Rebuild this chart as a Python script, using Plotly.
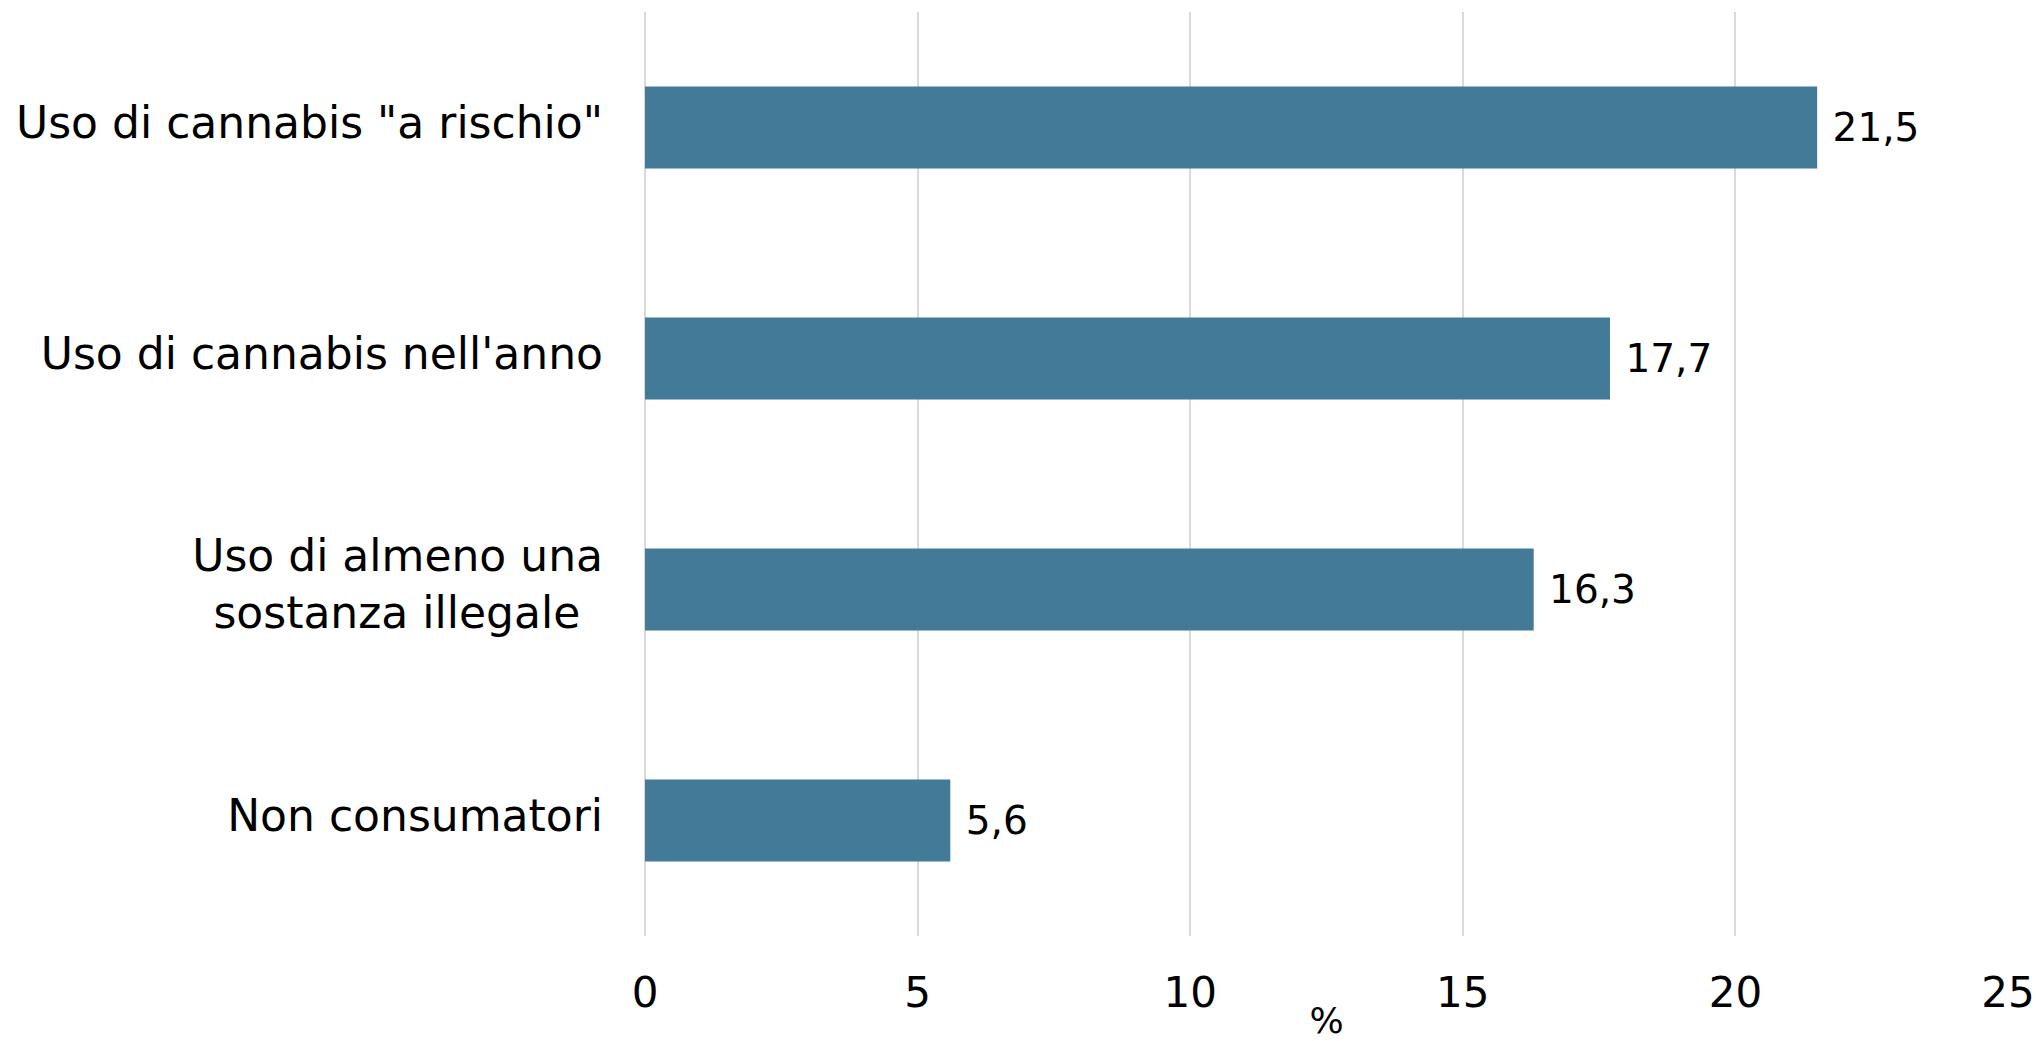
import plotly.graph_objects as go

# Categories listed top to bottom, with their percentages
categories = [
    'Uso di cannabis "a rischio"',
    "Uso di cannabis nell'anno",
    "Uso di almeno una<br>sostanza illegale\u00a0\u2009",
    "Non consumatori",
]
values = [21.5, 17.7, 16.3, 5.6]
x_ticks = [0, 5, 10, 15, 20, 25]

FONT = "DejaVu Sans"
BAR_COLOR = "#437a97"
GRID_COLOR = "#d9d9d9"

fig = go.Figure(
    go.Bar(
        x=values,
        y=categories,
        orientation="h",
        marker=dict(color=BAR_COLOR, line=dict(width=0)),
        texttemplate=" %{x:.1f}",
        textposition="outside",
        textfont=dict(family=FONT, size=39, color="#000000"),
        cliponaxis=False,
    )
)

fig.update_layout(
    width=2036,
    height=1041,
    margin=dict(l=645, r=28, t=12, b=105),
    paper_bgcolor="white",
    plot_bgcolor="white",
    separators=",.",
    bargap=0.645,
    showlegend=False,
    font=dict(family=FONT, color="#000000"),
)

fig.update_xaxes(
    range=[0, 25],
    tickvals=x_ticks,
    ticktext=[str(t) for t in x_ticks],
    tickfont=dict(family=FONT, size=42, color="#000000"),
    showgrid=True,
    gridcolor=GRID_COLOR,
    gridwidth=2,
    zeroline=True,
    zerolinecolor=GRID_COLOR,
    zerolinewidth=2,
    showline=False,
    ticks="",
    ticklabelstandoff=28,
    title=dict(text="%", font=dict(family=FONT, size=36, color="#000000"), standoff=4),
    automargin=False,
)

fig.update_yaxes(
    categoryorder="array",
    categoryarray=categories[::-1],
    tickfont=dict(family=FONT, size=44, color="#000000"),
    showgrid=False,
    showline=False,
    ticks="",
    ticklabelstandoff=41,
    ticklabelshift=-5,
    automargin=False,
)

fig.write_html("out.html")
